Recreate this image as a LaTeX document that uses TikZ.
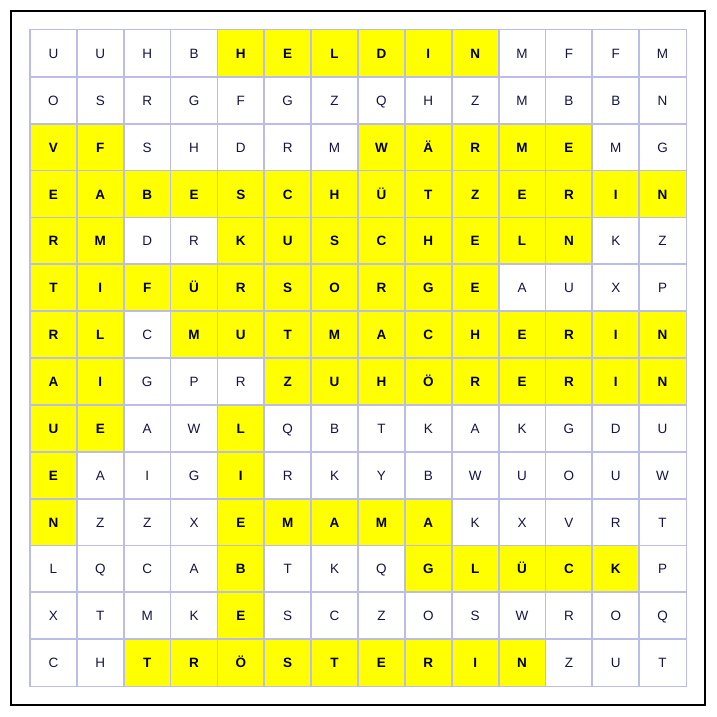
\documentclass[tikz,border=0pt]{standalone}
\usepackage{fontspec}
\setmainfont{Liberation Sans}
\definecolor{gridline}{RGB}{188,188,232}
\definecolor{hlyellow}{RGB}{255,255,0}
\definecolor{plaintext}{RGB}{20,20,70}
\tikzset{
  cellbase/.style={rectangle, minimum size=46.86pt, inner sep=0pt,
    text height=10pt, text depth=0pt, font=\fontsize{13.5pt}{14pt}\selectfont},
  plaincell/.style={cellbase, fill=white, text=plaintext},
  hlcell/.style={cellbase, fill=hlyellow, text=black, font=\fontsize{13.5pt}{14pt}\selectfont\bfseries},
  cellborder/.style={draw=gridline, line width=1.4pt},
}
\begin{document}
\begin{tikzpicture}[x=1pt,y=-1pt]
\useasboundingbox (0,0) rectangle (717,717);
\node[draw=black, line width=1.3pt, minimum width=694pt, minimum height=694pt, inner sep=0pt] (frame) at (358,358) {};
\foreach \row [count=\r] in {
 {U/0,U/0,H/0,B/0,H/1,E/1,L/1,D/1,I/1,N/1,M/0,F/0,F/0,M/0},
 {O/0,S/0,R/0,G/0,F/0,G/0,Z/0,Q/0,H/0,Z/0,M/0,B/0,B/0,N/0},
 {V/1,F/1,S/0,H/0,D/0,R/0,M/0,W/1,Ä/1,R/1,M/1,E/1,M/0,G/0},
 {E/1,A/1,B/1,E/1,S/1,C/1,H/1,Ü/1,T/1,Z/1,E/1,R/1,I/1,N/1},
 {R/1,M/1,D/0,R/0,K/1,U/1,S/1,C/1,H/1,E/1,L/1,N/1,K/0,Z/0},
 {T/1,I/1,F/1,Ü/1,R/1,S/1,O/1,R/1,G/1,E/1,A/0,U/0,X/0,P/0},
 {R/1,L/1,C/0,M/1,U/1,T/1,M/1,A/1,C/1,H/1,E/1,R/1,I/1,N/1},
 {A/1,I/1,G/0,P/0,R/0,Z/1,U/1,H/1,Ö/1,R/1,E/1,R/1,I/1,N/1},
 {U/1,E/1,A/0,W/0,L/1,Q/0,B/0,T/0,K/0,A/0,K/0,G/0,D/0,U/0},
 {E/1,A/0,I/0,G/0,I/1,R/0,K/0,Y/0,B/0,W/0,U/0,O/0,U/0,W/0},
 {N/1,Z/0,Z/0,X/0,E/1,M/1,A/1,M/1,A/1,K/0,X/0,V/0,R/0,T/0},
 {L/0,Q/0,C/0,A/0,B/1,T/0,K/0,Q/0,G/1,L/1,Ü/1,C/1,K/1,P/0},
 {X/0,T/0,M/0,K/0,E/1,S/0,C/0,Z/0,O/0,S/0,W/0,R/0,O/0,Q/0},
 {C/0,H/0,T/1,R/1,Ö/1,S/1,T/1,E/1,R/1,I/1,N/1,Z/0,U/0,T/0}} {
  \foreach \L/\h [count=\c] in \row {
    \ifnum\h=1
      \node[hlcell] (cell-\r-\c) at ({30+46.86*(\c-0.5)},{30+46.86*(\r-0.5)}) {\L};
    \else
      \node[plaincell] (cell-\r-\c) at ({30+46.86*(\c-0.5)},{30+46.86*(\r-0.5)}) {\L};
    \fi
  }
}
\foreach \r in {1,...,14} {
  \foreach \c in {1,...,14} {
    \draw[cellborder] (cell-\r-\c.north west) rectangle (cell-\r-\c.south east);
  }
}
\end{tikzpicture}
\end{document}
